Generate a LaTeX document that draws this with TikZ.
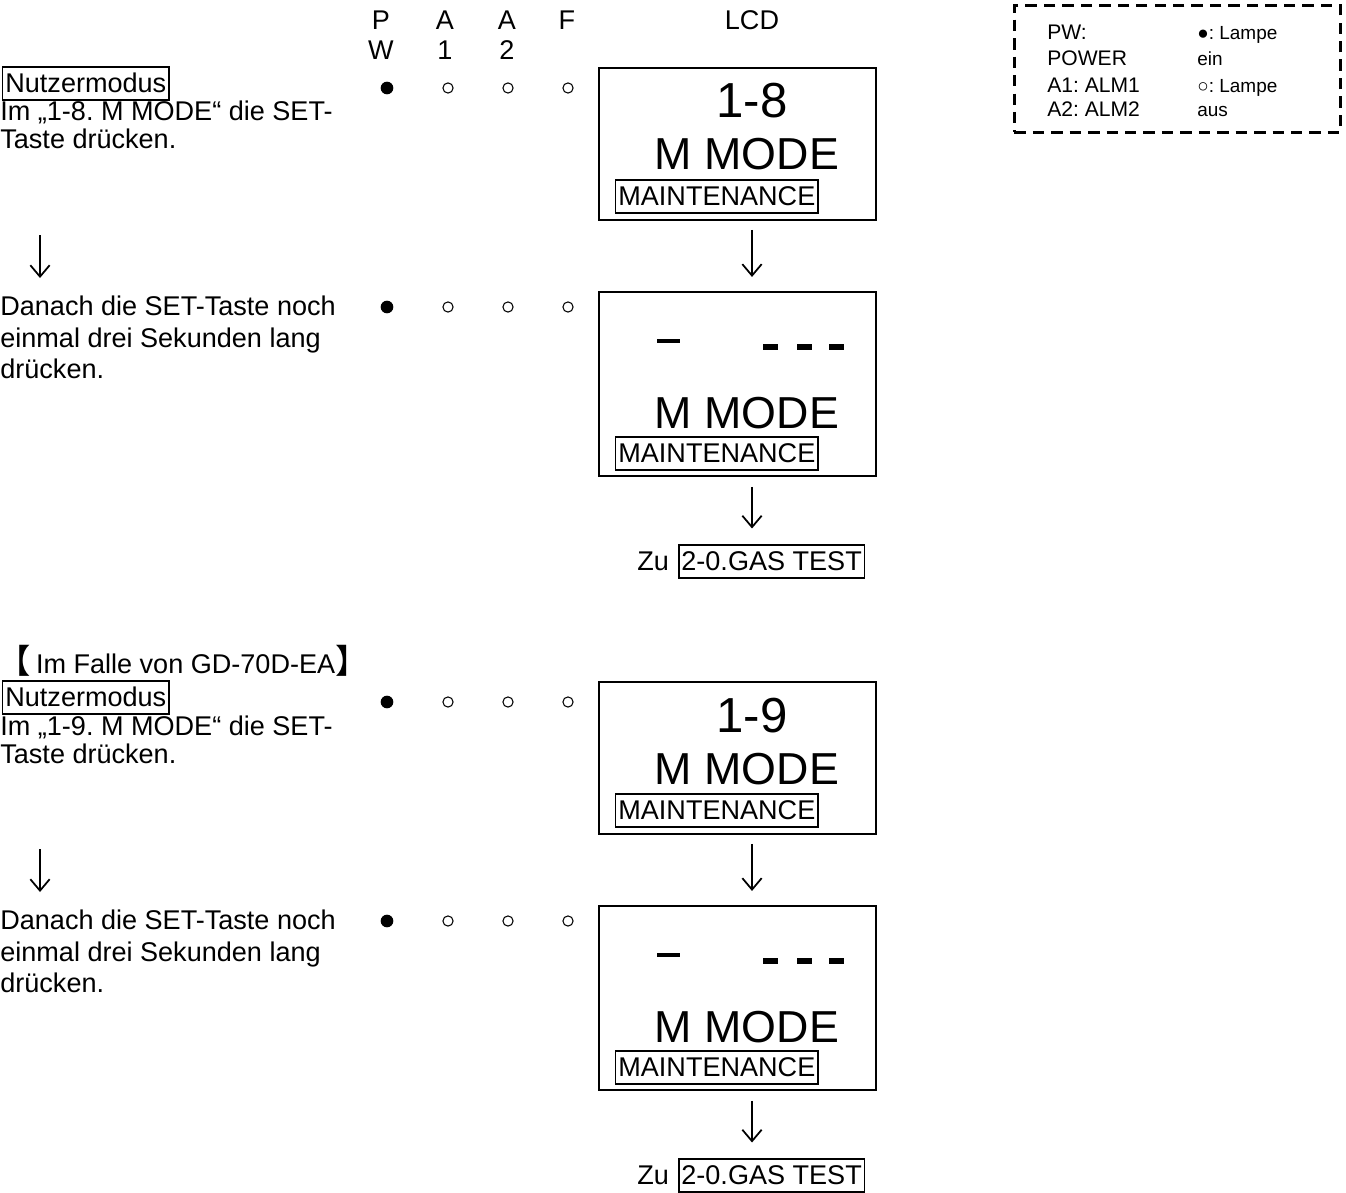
\documentclass[tikz,border=0pt]{standalone}
\usepackage{fontspec}
\setmainfont{Liberation Sans}
\newfontfamily\cjkfont{Noto Sans CJK JP}
\usetikzlibrary{arrows.meta,positioning}
\frenchspacing
\newcommand\gdbody{\fontsize{15.4pt}{17.6pt}\selectfont}
\newcommand\gdbig{\fontsize{25.5pt}{30pt}\selectfont}
\newcommand\gdnum{\fontsize{28pt}{32pt}\selectfont}
\newcommand\gdkeyfont{\fontsize{12pt}{14pt}\selectfont}
\newcommand\gdvalfont{\fontsize{10.8pt}{13pt}\selectfont}
\newcommand\gdbracket[1]{{\cjkfont\fontsize{19pt}{20pt}\selectfont #1}}
\tikzset{
  gd text/.style={font=\gdbody, inner sep=0pt},
  gd line/.style={gd text, anchor=base west},
  gd head/.style={gd text, anchor=base},
  gd tag/.style={gd text, anchor=base west, draw, line width=0.85pt,
    inner xsep=1.5pt, inner ysep=1.7pt, text height=12.5pt, text depth=2.8pt},
  gd lcd/.style={draw, line width=1.1pt, anchor=north west, minimum width=5.54cm},
  gd big/.style={font=\gdbig, inner sep=0pt, anchor=base},
  gd lamp on/.style={circle, fill, inner sep=0pt, minimum size=7.2pt},
  gd lamp off/.style={circle, draw, line width=0.6pt, inner sep=0pt, minimum size=5.8pt},
  gd seg/.style={line width=3.1pt},
  gd arrow/.style={-{Straight Barb[length=6.5pt,width=11pt]}, line width=1pt},
  gd legend/.style={draw, line width=1.5pt, dash pattern=on 6.5pt off 4pt,
    anchor=north west, minimum width=6.52cm, minimum height=2.54cm},
  gd key/.style={font=\gdkeyfont, inner sep=0pt, anchor=base west},
  gd val/.style={font=\gdvalfont, inner sep=0pt, anchor=base west}
}

\begin{document}
\begin{tikzpicture}[gd text, x=0.02cm, y=-0.02cm]
  \useasboundingbox (0,0) rectangle (1346,1193);
  % column heads
  \node[gd head] (hpw1) at (381,30) {P};
  \node[gd head] (hpw2) at (381,60) {W};
  \node[gd head] (ha11) at (445,30) {A};
  \node[gd head] (ha12) at (445,60) {1};
  \node[gd head] (ha21) at (507,30) {A};
  \node[gd head] (ha22) at (507,60) {2};
  \node[gd head] (hf) at (567,30) {F};
  \node[gd head] (hlcd) at (752,30) {LCD};
  \coordinate (lcdcol) at (752,0);
  % legend
  \node[gd legend] (legend) at (1013,4) {};
  \node[gd key] (k1) at (1047,40) {PW:};
  \node[gd key] (k2) at (1047,66) {POWER};
  \node[gd key] (k3) at (1047,92) {A1: ALM1};
  \node[gd key] (k4) at (1047,117) {A2: ALM2};
  \node[gd val] (v1) at (1197,40) {●: Lampe};
  \node[gd val] (v2) at (1197,66) {ein};
  \node[gd val] (v3) at (1197,92) {○: Lampe};
  \node[gd val] (v4) at (1197,117) {aus};
  \node[gd line] (case) at (-3,673) {\gdbracket{【}\kern3pt Im Falle von GD-70D-EA\gdbracket{】}};
  \foreach \s/\dy/\n in {1/0/8, 2/614/9} {
    \begin{scope}[shift={(0,\dy)}]
      \node[gd tag] (mode\s) at (2,92) {Nutzermodus};
      \node[gd line] (sa\s) at (0,121) {Im „1-\n. M MODE“ die SET-};
      \node[gd line] (sb\s) at (0,149) {Taste drücken.};
      \coordinate (la\s) at (40,235);
      \coordinate (lb\s) at (40,278);
      \draw[gd arrow] (la\s) -- (lb\s);
      \node[gd line] (sc\s) at (0,315) {Danach die SET-Taste noch};
      \node[gd line] (sd\s) at (0,347) {einmal drei Sekunden lang};
      \node[gd line] (se\s) at (0,378) {drücken.};
      \foreach \r/\ry in {a/88, b/307} {
        \node[gd lamp on] (pw\s\r) at (387,\ry) {};
        \node[gd lamp off] (aa\s\r) at (448,\ry) {};
        \node[gd lamp off] (ab\s\r) at (508,\ry) {};
        \node[gd lamp off] (fl\s\r) at (568,\ry) {};
      }
      \node[gd lcd, minimum height=3.04cm] (lcda\s) at (598,67) {};
      \node[gd big, font=\gdnum] (numa\s) at (752,118) {1-\n};
      \node[gd big] (mma\s) at (747,170) {M MODE};
      \node[gd tag] (mta\s) at (615,205) {MAINTENANCE};
      \node[gd lcd, minimum height=3.68cm] (lcdb\s) at (598,291) {};
      \draw[gd seg, line width=2.4pt] (657,341) -- (680,341);
      \draw[gd seg] (763,347) -- (778,347) (797,347) -- (812,347) (829,347) -- (844,347);
      \node[gd big] (mmb\s) at (747,428) {M MODE};
      \node[gd tag] (mtb\s) at (615,462) {MAINTENANCE};
      \node[gd line] (zu\s) at (637,570) {Zu};
      \node[gd tag] (gas\s) at (678,570) {2-0.GAS TEST};
      \draw[gd arrow, shorten <=5.1pt, shorten >=8pt]
        (lcda\s.south -| lcdcol) -- (lcdb\s.north -| lcdcol);
      \draw[gd arrow, shorten <=5.7pt, shorten >=9pt]
        (lcdb\s.south -| lcdcol) -- (gas\s.north -| lcdcol);
    \end{scope}
  }
\end{tikzpicture}
\end{document}
